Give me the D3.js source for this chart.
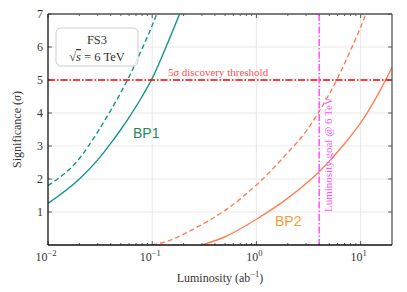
<!DOCTYPE html>
<html>
<head>
<meta charset="utf-8">
<script src="https://d3js.org/d3.v7.min.js"></script>
<style>
  body { margin: 0; background: #fff; }
  svg { font-family: "Liberation Serif", "DejaVu Serif", serif; }
</style>
</head>
<body>
<div id="chart"></div>
<script>
// luminosity values (ab^-1) and significances
const bp1Lumi     = [0.01, 0.02, 0.03, 0.04, 0.05, 0.06, 0.08, 0.1, 0.15, 0.2];
const bp1Solid    = [1.26, 2.0, 2.58, 3.08, 3.5, 3.87, 4.5, 5.05, 6.33, 7.3];
const bp1DashLumi = [0.01, 0.02, 0.03, 0.04, 0.05, 0.06, 0.08, 0.1, 0.12];
const bp1Dashed   = [1.8, 2.62, 3.43, 4.08, 4.62, 5.1, 5.95, 6.65, 7.3];
const bp2Lumi     = [0.3, 0.5, 1, 2, 4, 7, 10, 15, 20];
const bp2Solid    = [0, 0.25, 0.78, 1.42, 2.22, 3.07, 3.7, 4.62, 5.38];
const bp2DashLumi = [0.1, 0.15, 0.2, 0.3, 0.5, 1, 2, 3, 4, 6, 8, 10, 12];
const bp2Dashed   = [0, 0.15, 0.33, 0.62, 1.05, 1.82, 2.8, 3.45, 4.05, 5.05, 5.9, 6.6, 7.25];

const xTickExp = [-2, -1, 0, 1];
const yTicks = [1, 2, 3, 4, 5, 6, 7];
const threshold = 5;
const lumiGoal = 4;

const width = 407, height = 292;
const margin = {top: 14, right: 15, bottom: 47, left: 48};

const svg = d3.select("#chart").append("svg")
    .attr("width", width)
    .attr("height", height);

const x = d3.scaleLog()
    .domain([0.01, 20])
    .range([margin.left, width - margin.right]);
const y = d3.scaleLinear()
    .domain([0, 7])
    .range([height - margin.bottom, margin.top]);

const [x0, x1] = x.range();
const [y0, y1] = y.range();

svg.append("clipPath").attr("id", "clip")
  .append("rect")
    .attr("x", x0).attr("y", y1)
    .attr("width", x1 - x0).attr("height", y0 - y1);

// grid
const grid = svg.append("g").attr("stroke", "#e3e3e3").attr("stroke-width", 0.8);
grid.selectAll(".gx")
  .data(xTickExp.map(e => Math.pow(10, e)).filter(v => v > 0.01))
  .join("line")
    .attr("x1", d => x(d)).attr("x2", d => x(d))
    .attr("y1", y1).attr("y2", y0);
grid.selectAll(".gy")
  .data(yTicks)
  .join("line")
    .attr("x1", x0).attr("x2", x1)
    .attr("y1", d => y(d)).attr("y2", d => y(d));

// minor ticks on log axis
const minor = [];
xTickExp.forEach(e => {
  for (let k = 2; k <= 9; k++) {
    const v = k * Math.pow(10, e);
    if (v < 20) minor.push(v);
  }
});

const ticks = svg.append("g").attr("stroke", "#333").attr("stroke-width", 0.8);
// bottom + top
[y0, y1].forEach((yy, i) => {
  const dir = i === 0 ? -1 : 1;
  ticks.append("g").selectAll("line")
    .data(xTickExp.map(e => Math.pow(10, e)))
    .join("line")
      .attr("x1", d => x(d)).attr("x2", d => x(d))
      .attr("y1", yy).attr("y2", yy + dir * 4);
  ticks.append("g").selectAll("line")
    .data(minor)
    .join("line")
      .attr("x1", d => x(d)).attr("x2", d => x(d))
      .attr("y1", yy).attr("y2", yy + dir * 2);
});
// left + right
[x0, x1].forEach((xx, i) => {
  const dir = i === 0 ? 1 : -1;
  ticks.append("g").selectAll("line")
    .data(yTicks)
    .join("line")
      .attr("x1", xx).attr("x2", xx + dir * 4)
      .attr("y1", d => y(d)).attr("y2", d => y(d));
});

// curves
const line = d3.line()
    .x(d => x(d[0]))
    .y(d => y(d[1]))
    .curve(d3.curveMonotoneX);

const plot = svg.append("g").attr("clip-path", "url(#clip)").attr("fill", "none");

const series = [
  {lumi: bp1Lumi, sig: bp1Solid, color: "#13968f", dash: null},
  {lumi: bp1DashLumi, sig: bp1Dashed, color: "#13968f", dash: "5,3"},
  {lumi: bp2Lumi, sig: bp2Solid, color: "#ff8052", dash: null},
  {lumi: bp2DashLumi, sig: bp2Dashed, color: "#ff8052", dash: "5,3"}
];
series.forEach(s => {
  plot.append("path")
    .datum(s.lumi.map((l, i) => [l, s.sig[i]]))
    .attr("d", line)
    .attr("stroke", s.color)
    .attr("stroke-width", 1.4)
    .attr("stroke-dasharray", s.dash);
});

// threshold line
plot.append("line")
    .attr("x1", x0).attr("x2", x1)
    .attr("y1", y(threshold)).attr("y2", y(threshold))
    .attr("stroke", "#ff0000")
    .attr("stroke-width", 1.3)
    .attr("stroke-dasharray", "7,2,1.5,2");

// luminosity goal line
plot.append("line")
    .attr("x1", x(lumiGoal)).attr("x2", x(lumiGoal))
    .attr("y1", y1).attr("y2", y0)
    .attr("stroke", "#ff33ff")
    .attr("stroke-width", 1.3)
    .attr("stroke-dasharray", "7,2,1.5,2");

// frame
svg.append("line").attr("x1", x0).attr("x2", x1).attr("y1", y1).attr("y2", y1)
    .attr("stroke", "#555").attr("stroke-width", 1.3);
svg.append("line").attr("x1", x1).attr("x2", x1).attr("y1", y1).attr("y2", y0)
    .attr("stroke", "#555").attr("stroke-width", 1.3);
svg.append("line").attr("x1", x0).attr("x2", x1).attr("y1", y0).attr("y2", y0)
    .attr("stroke", "#111").attr("stroke-width", 1.3);
svg.append("line").attr("x1", x0).attr("x2", x0).attr("y1", y1).attr("y2", y0)
    .attr("stroke", "#111").attr("stroke-width", 1.3);

// tick labels
svg.append("g").selectAll("text")
  .data(yTicks)
  .join("text")
    .attr("x", x0 - 5)
    .attr("y", d => y(d) + 4)
    .attr("text-anchor", "end")
    .attr("font-size", 12)
    .attr("fill", "#333")
    .text(d => d);

const xl = svg.append("g").selectAll("text")
  .data(xTickExp)
  .join("text")
    .attr("x", e => x(Math.pow(10, e)) - 2)
    .attr("y", y0 + 16)
    .attr("text-anchor", "middle")
    .attr("font-size", 12)
    .attr("fill", "#333");
xl.append("tspan").text("10");
xl.append("tspan")
    .attr("dy", -5)
    .attr("font-size", 8.5)
    .text(e => e < 0 ? "\u2212" + (-e) : e);

// axis titles
svg.append("text")
    .attr("x", (x0 + x1) / 2)
    .attr("y", height - 10)
    .attr("text-anchor", "middle")
    .attr("font-size", 12)
    .attr("fill", "#333")
    .call(t => {
      t.append("tspan").text("Luminosity (ab");
      t.append("tspan").attr("dy", -5).attr("font-size", 8.5).text("\u22121");
      t.append("tspan").attr("dy", 5).text(")");
    });

svg.append("text")
    .attr("transform", `translate(21,${(y0 + y1) / 2}) rotate(-90)`)
    .attr("text-anchor", "middle")
    .attr("font-size", 12)
    .attr("fill", "#333")
    .html("Significance (<tspan font-style='italic'>σ</tspan>)");

// info box
svg.append("rect")
    .attr("x", 56).attr("y", 28)
    .attr("width", 82).attr("height", 38)
    .attr("rx", 5)
    .attr("fill", "#fff")
    .attr("fill-opacity", 0.85)
    .attr("stroke", "#ccc");
svg.append("text")
    .attr("x", 97).attr("y", 44)
    .attr("text-anchor", "middle")
    .attr("font-size", 12.5)
    .attr("fill", "#333")
    .text("FS3");
svg.append("text")
    .attr("x", 97).attr("y", 61)
    .attr("text-anchor", "middle")
    .attr("font-size", 12.5)
    .attr("fill", "#333")
    .html("√<tspan text-decoration='overline' font-style='italic'>s</tspan> = 6 TeV");

// annotations
svg.append("text")
    .attr("x", 168).attr("y", 76)
    .attr("font-size", 11)
    .attr("fill", "#ff4d4d")
    .html("5<tspan font-style='italic'>σ</tspan> discovery threshold");

svg.append("text")
    .attr("transform", `translate(${x(lumiGoal) + 13},${y(1)}) rotate(-90)`)
    .attr("font-size", 11)
    .attr("fill", "#ff55ff")
    .text("Luminosity goal @ 6 TeV");

svg.append("text")
    .attr("x", 133).attr("y", 138)
    .style("font-family", "'Liberation Sans', Arial, sans-serif")
    .attr("font-size", 14)
    .attr("fill", "#1f8a5e")
    .text("BP1");
svg.append("text")
    .attr("x", 275).attr("y", 226)
    .style("font-family", "'Liberation Sans', Arial, sans-serif")
    .attr("font-size", 14)
    .attr("fill", "#ff9a30")
    .text("BP2");
</script>
</body>
</html>
